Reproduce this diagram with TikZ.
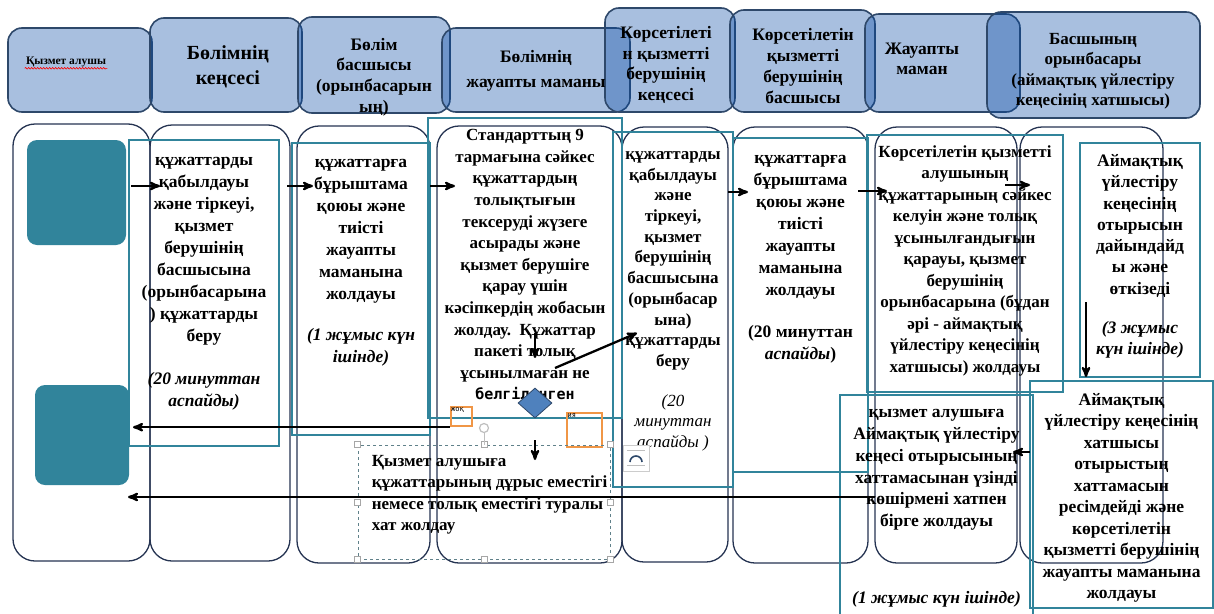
\documentclass[tikz,border=0pt]{standalone}
\usepackage{fontspec}
\setmainfont{Liberation Serif}
\newfontfamily\monofont{DejaVu Sans Mono}
\usetikzlibrary{shapes.geometric,arrows,positioning,decorations.pathmorphing}

\definecolor{hdrfill}{RGB}{3,72,165}
\definecolor{hdrline}{RGB}{46,72,106}
\definecolor{laneline}{RGB}{38,52,82}
\definecolor{tealline}{RGB}{49,132,155}
\definecolor{tealfill}{RGB}{49,132,155}
\definecolor{diafill}{RGB}{79,129,189}
\definecolor{orangeline}{RGB}{240,150,70}

\begin{document}
\begin{tikzpicture}[x=1pt,y=-1pt,>=stealth',semithick]
\tikzstyle{hdr}=[draw=hdrline, line width=1.6pt, rounded corners=14pt, fill=hdrfill, fill opacity=0.345, inner sep=0pt]
\tikzstyle{htxt}=[font=\bfseries\fontsize{17.5}{20.7}\selectfont, align=center, inner sep=0pt]
\tikzstyle{lane}=[draw=laneline, line width=1.3pt, rounded corners=22pt, inner sep=0pt]
\tikzstyle{tbox}=[draw=tealline, line width=1.8pt, inner sep=0pt]
\tikzstyle{txt}=[font=\bfseries\fontsize{17.5}{22}\selectfont, align=center, inner sep=0pt]
\tikzstyle{obox}=[draw=orangeline, line width=2.4pt, inner sep=0pt]
\tikzstyle{handle}=[draw=gray!70, fill=white, line width=0.6pt, minimum size=6, inner sep=0pt]
\tikzstyle{arr}=[->, line width=2.3pt, black]
\fill[white] (0,0) rectangle (1214,613);
\useasboundingbox (0,0) rectangle (1214,613);

% header row
\node[hdr, minimum width=144, minimum height=84] (h1) at (80,70) {};
\node[hdr, minimum width=152, minimum height=94] (h2) at (226,65) {};
\node[hdr, minimum width=152, minimum height=96] (h3) at (374,65) {};
\node[hdr, minimum width=188, minimum height=84] (h4) at (536,70) {};
\node[hdr, minimum width=130, minimum height=104] (h5) at (670,60) {};
\node[hdr, minimum width=145, minimum height=102] (h6) at (802.5,61) {};
\node[hdr, minimum width=155, minimum height=98] (h7) at (942.5,63) {};
\node[hdr, minimum width=213, minimum height=106] (h8) at (1093.5,65) {};
\node[font=\bfseries\fontsize{11.5}{13}\selectfont, inner sep=1pt] (h1t) at (66,62) {Қызмет алушы};
\draw[red, line width=0.6pt, decorate, decoration={snake, amplitude=0.8pt, segment length=3pt}] (h1t.south west) -- (h1t.south east);
\node[htxt, font=\bfseries\fontsize{20}{25}\selectfont] (h2t) at (228,67) {Бөлімнің\\кеңсесі};
\node[htxt] (h3t) at (374,77) {Бөлім\\басшысы\\(орынбасарын\\ың)};
\node[htxt, font=\bfseries\fontsize{17.5}{25}\selectfont] (h4t) at (536,71) {Бөлімнің\\жауапты маманы};
\node[htxt] (h5t) at (666,65) {Көрсетілеті\\н қызметті\\берушінің\\кеңсесі};
\node[htxt] (h6t) at (803,66) {Көрсетілетін\\қызметті\\берушінің\\басшысы};
\node[htxt] (h7t) at (922,59) {Жауапты\\маман};
\node[htxt, font=\bfseries\fontsize{17}{20.5}\selectfont] (h8t) at (1093,71) {Басшының\\орынбасары\\(аймақтық үйлестіру\\кеңесінің хатшысы)};

% lanes
\node[lane, minimum width=137, minimum height=437] (l1) at (81.5,342.5) {};
\node[lane, minimum width=140, minimum height=436] (l2) at (220,343) {};
\node[lane, minimum width=133, minimum height=437] (l3) at (363.5,344.5) {};
\node[lane, minimum width=185, minimum height=437] (l4) at (529.5,344.5) {};
\node[lane, minimum width=106, minimum height=435] (l5) at (675,344.5) {};
\node[lane, minimum width=135, minimum height=436] (l6) at (800.5,345) {};
\node[lane, minimum width=142, minimum height=436] (l7) at (946,345) {};
\node[lane, minimum width=143, minimum height=436] (l8) at (1091.5,345) {};

% service receiver squares
\node[fill=tealfill, rounded corners=10pt, minimum width=99, minimum height=105, inner sep=0pt] (sq1) at (76.5,192.5) {};
\node[fill=tealfill, rounded corners=10pt, minimum width=94, minimum height=100, inner sep=0pt] (sq2) at (82,435) {};

% step boxes
\node[tbox, minimum width=150, minimum height=306] (tb1) at (204,293) {};
\node[tbox, minimum width=138, minimum height=292] (tb2) at (361,289) {};
\node[tbox, minimum width=194, minimum height=300] (tb3) at (525,268) {};
\node[tbox, minimum width=120, minimum height=355] (tb4) at (673,309.5) {};
\node[tbox, minimum width=135, minimum height=334] (tb5) at (800.5,305) {};
\node[tbox, minimum width=196, minimum height=257] (tb6) at (965,263.5) {};
\node[tbox, minimum width=120, minimum height=234] (tb7) at (1140,260) {};
\node[tbox, minimum width=193, minimum height=220] (tb8) at (936.5,505) {};
\node[tbox, minimum width=183, minimum height=227] (tb9) at (1121.5,494.5) {};

% step texts
\node[txt, below=18pt of tb1.north] (t1) {құжаттарды\\қабылдауы\\және тіркеуі,\\қызмет\\берушінің\\басшысына\\(орынбасарына\\) құжаттарды\\беру\\[21pt]\textit{(20 минуттан}\\\textit{аспайды)}};
\node[txt, below=17pt of tb2.north] (t2) {құжаттарға\\бұрыштама\\қоюы және\\тиісті\\жауапты\\маманына\\жолдауы\\[19pt]\textit{(1 жұмыс күн}\\\textit{ішінде)}};
\node[txt, font=\bfseries\fontsize{17}{21.6}\selectfont, below=12pt of tb3.north] (t3) {Стандарттың 9\\тармағына сәйкес\\құжаттардың\\толықтығын\\тексеруді жүзеге\\асырады және\\қызмет берушіге\\қарау үшін\\кәсіпкердің жобасын\\жолдау.\ \ Құжаттар\\пакеті толық\\ұсынылмаған не\\{\monofont\fontsize{15}{21.6}\selectfont белгіленген}};
\node[txt, font=\bfseries\fontsize{17}{20.7}\selectfont, below=20pt of tb4.north] (t4) {құжаттарды\\қабылдауы\\және\\тіркеуі,\\қызмет\\берушінің\\басшысына\\(орынбасар\\ына)\\құжаттарды\\беру\\[19pt]\textmd{\textit{(20}}\\\textmd{\textit{минуттан}}\\\textmd{\textit{аспайды )}}};
\node[txt, below=18pt of tb5.north] (t5) {құжаттарға\\бұрыштама\\қоюы және\\тиісті\\жауапты\\маманына\\жолдауы\\[20pt](20 минуттан\\\textit{аспайды})};
\node[txt, font=\bfseries\fontsize{17}{21.5}\selectfont, below=11pt of tb6.north] (t6) {Көрсетілетін қызметті\\алушының\\құжаттарының сәйкес\\келуін және толық\\ұсынылғандығын\\қарауы, қызмет\\берушінің\\орынбасарына (бұдан\\әрі - аймақтық\\үйлестіру кеңесінің\\хатшысы) жолдауы};
\node[txt, font=\bfseries\fontsize{17.5}{21.3}\selectfont, below=12pt of tb7.north] (t7) {Аймақтық\\үйлестіру\\кеңесінің\\отырысын\\дайындайд\\ы және\\өткізеді\\[18pt]\textit{(3 жұмыс}\\\textit{күн ішінде)}};
\node[txt, font=\bfseries\fontsize{17.5}{21.8}\selectfont, below=15pt of tb8.north] (t8) {қызмет алушыға\\Аймақтық үйлестіру\\кеңесі отырысының\\хаттамасынан үзінді\\көшірмені хатпен\\бірге жолдауы\\[55pt]\textit{(1 жұмыс күн ішінде)}};
\node[txt, font=\bfseries\fontsize{17.5}{21.5}\selectfont, below=13pt of tb9.north] (t9) {Аймақтық\\үйлестіру кеңесінің\\хатшысы\\отырыстың\\хаттамасын\\ресімдейді және\\көрсетілетін\\қызметті берушінің\\жауапты маманына\\жолдауы};

% decision
\node[diamond, aspect=1.13, fill=diafill, draw=hdrline, line width=0.8pt, minimum width=34, minimum height=30, inner sep=0pt] (dec) at (535,403) {};
\node[obox, minimum width=21, minimum height=19, label={[anchor=north west, inner sep=1pt, font=\monofont\fontsize{7}{8}\selectfont]north west:жоқ}] (no) at (461.5,416.5) {};
\node[obox, minimum width=35, minimum height=34, label={[anchor=north west, inner sep=1.5pt, font=\monofont\fontsize{7}{8}\selectfont]north west:ия}] (yes) at (584.5,430) {};

% selected text frame
\node[draw=gray!60!tealline, dashed, line width=0.8pt, minimum width=252, minimum height=114, inner sep=0pt] (sel) at (484,502) {};
\foreach \a in {north west,north,north east,east,south east,south,south west,west}
  \node[handle] at (sel.\a) {};
\node[draw=gray!50, circle, line width=1.2pt, minimum size=9, inner sep=0pt] (rot) at (484,428) {};
\draw[gray!50, line width=0.8pt] (rot) -- (sel.north);
\node[txt, font=\bfseries\fontsize{17}{21.5}\selectfont, align=left, below right=10pt and 14pt of sel.north west] (selt) {Қызмет алушыға\\құжаттарының дұрыс еместігі\\немесе толық еместігі туралы\\хат жолдау};

% layout icon
\node[draw=gray!40, fill=white, line width=0.8pt, minimum width=26, minimum height=26, inner sep=0pt] (lay) at (636,458) {};
\draw[gray!50, line width=0.6pt] ([shift={(-9pt,8pt)}]lay.center) -- ([shift={(9pt,8pt)}]lay.center)
      ([shift={(-9pt,-7pt)}]lay.center) -- ([shift={(9pt,-7pt)}]lay.center);
\draw[hdrline, line width=1.6pt] ([shift={(-6pt,-4pt)}]lay.center) arc[start angle=180, end angle=0, radius=6pt];

% connectors
\coordinate (a1s) at (131,186);  \coordinate (a1e) at (160,186);
\coordinate (a2s) at (287,186);  \coordinate (a2e) at (313,186);
\coordinate (a3s) at (430,186);  \coordinate (a3e) at (455,186);
\coordinate (a4s) at (535,333);  \coordinate (a4e) at (535,358);
\coordinate (a5s) at (555,368);  \coordinate (a5e) at (637,333);
\coordinate (a6s) at (728,192);  \coordinate (a6e) at (748,192);
\coordinate (a7s) at (858,191);  \coordinate (a7e) at (887,191);
\coordinate (a8s) at (1005,185); \coordinate (a8e) at (1030,185);
\coordinate (a9s) at (1086,302); \coordinate (a9e) at (1086,377);
\coordinate (a10s) at (1030,452); \coordinate (a10e) at (1013,452);
\coordinate (a12s) at (875,497); \coordinate (a12e) at (128,497);
\coordinate (a13s) at (535,440); \coordinate (a13e) at (535,460);
\draw[arr] (a1s) -- (a1e);
\draw[arr] (a2s) -- (a2e);
\draw[arr] (a3s) -- (a3e);
\draw[arr] (a4s) -- (a4e);
\draw[arr] (a5s) -- (a5e);
\draw[arr] (a6s) -- (a6e);
\draw[arr] (a7s) -- (a7e);
\draw[arr] (a8s) -- (a8e);
\draw[arr] (a9s) -- (a9e);
\draw[arr] (a10s) -- (a10e);
\draw[arr] (no.south west) -- (no.south west -| 133,0);
\draw[arr] (a12s) -- (a12e);
\draw[arr] (a13s) -- (a13e);
\end{tikzpicture}
\end{document}
